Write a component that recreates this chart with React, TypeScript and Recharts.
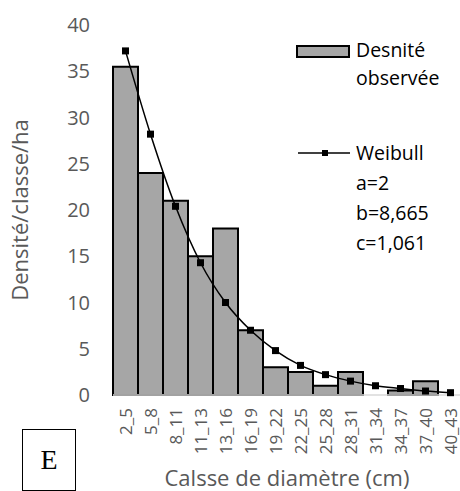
import React from 'react';
import { ComposedChart, Bar, Line, XAxis, YAxis, Legend } from 'recharts';

const categories = ['2_5', '5_8', '8_11', '11_13', '13_16', '16_19', '19_22', '22_25', '25_28', '28_31', '31_34', '34_37', '37_40', '40_43'];
const observed = [35.5, 24, 21, 15, 18, 7, 3, 2.5, 1, 2.5, 0, 0.5, 1.5, 0];
const weibull = [37.2, 28.2, 20.4, 14.3, 10.0, 7.0, 4.8, 3.2, 2.2, 1.5, 1.0, 0.7, 0.43, 0.25];
const yTicks = [0, 5, 10, 15, 20, 25, 30, 35, 40];
const legendObserved = ['Desnité', 'observée'];
const legendWeibull = ['Weibull', 'a=2', 'b=8,665', 'c=1,061'];
const yTitle = 'Densité/classe/ha';
const xTitle = 'Calsse de diamètre (cm)';
const panelLetter = 'E';

const data = categories.map((c, i) => ({ cat: c, obs: observed[i], wb: weibull[i] }));

const FONT = '"Open Sans", sans-serif';
const GREY = '#595959';

const XTick = (props: any) => {
  const { x, y, payload } = props;
  return (
    <text
      x={x}
      y={y}
      transform={`rotate(-90, ${x}, ${y})`}
      textAnchor="end"
      dominantBaseline="central"
      fontFamily={FONT}
      fontSize={17}
      fill={GREY}
    >
      {payload.value}
    </text>
  );
};

const renderLegend = () => (
  <div style={{ position: 'relative', width: 165, height: 260, fontFamily: FONT, fontSize: 19.5, color: '#000' }}>
    <svg style={{ position: 'absolute', left: 1, top: 45 }} width={56} height={14}>
      <rect x={1} y={1} width={52} height={11} fill="#a6a6a6" stroke="#000" strokeWidth={2} />
    </svg>
    <div style={{ position: 'absolute', left: 61, top: 36, lineHeight: '28px', whiteSpace: 'nowrap' }}>
      {legendObserved.map((t) => (
        <div key={t}>{t}</div>
      ))}
    </div>
    <svg style={{ position: 'absolute', left: 2, top: 146 }} width={54} height={14}>
      <line x1={1} y1={7} x2={53} y2={7} stroke="#000" strokeWidth={1.5} />
      <rect x={25} y={4} width={6} height={6} fill="#000" />
    </svg>
    <div style={{ position: 'absolute', left: 61, top: 138, lineHeight: '30px', whiteSpace: 'nowrap' }}>
      {legendWeibull.map((t) => (
        <div key={t}>{t}</div>
      ))}
    </div>
  </div>
);

export default function App() {
  return (
    <div style={{ position: 'absolute', left: 0, top: 0, width: 460, height: 491, overflow: 'hidden', background: '#fff' }}>
      <ComposedChart
        width={470}
        height={491}
        data={data}
        margin={{ top: 25, right: 7, bottom: 0, left: 0 }}
        barCategoryGap={0}
        barGap={0}
      >
        <XAxis
          dataKey="cat"
          interval={0}
          height={96}
          tickLine={false}
          tickSize={0}
          tickMargin={13}
          axisLine={{ stroke: '#d9d9d9', strokeWidth: 1.5 }}
          tick={<XTick />}
          label={{
            content: () => (
              <text x={287} y={486} textAnchor="middle" fontFamily={FONT} fontSize={22} fill={GREY}>
                {xTitle}
              </text>
            ),
          }}
        />
        <YAxis
          width={113}
          domain={[0, 40]}
          ticks={yTicks}
          interval={0}
          axisLine={false}
          tickLine={false}
          tickSize={0}
          tickMargin={23}
          tick={{ fontFamily: FONT, fontSize: 20, fill: GREY }}
          label={{
            content: () => (
              <text
                x={28}
                y={210}
                transform="rotate(-90, 28, 210)"
                textAnchor="middle"
                fontFamily={FONT}
                fontSize={22}
                fill={GREY}
              >
                {yTitle}
              </text>
            ),
          }}
        />
        <Legend
          layout="horizontal"
          verticalAlign="middle"
          align="center"
          content={renderLegend}
          wrapperStyle={{ left: 295, top: 0, width: 165, height: 260 }}
        />
        <Bar dataKey="obs" fill="#a6a6a6" stroke="#000" strokeWidth={2} isAnimationActive={false} />
        <Line
          dataKey="wb"
          type="monotone"
          stroke="#000"
          strokeWidth={1.5}
          isAnimationActive={false}
          dot={(p: any) => <rect key={p.index} x={p.cx - 3.5} y={p.cy - 3.5} width={7} height={7} fill="#000" />}
          activeDot={false}
        />
      </ComposedChart>
      <div
        style={{
          position: 'absolute',
          left: 22,
          top: 429,
          width: 52,
          height: 60,
          border: '1px solid #000',
          fontFamily: '"Liberation Serif", serif',
          fontSize: 28,
          lineHeight: '60px',
          textAlign: 'center',
          color: '#000',
        }}
      >
        {panelLetter}
      </div>
    </div>
  );
}
